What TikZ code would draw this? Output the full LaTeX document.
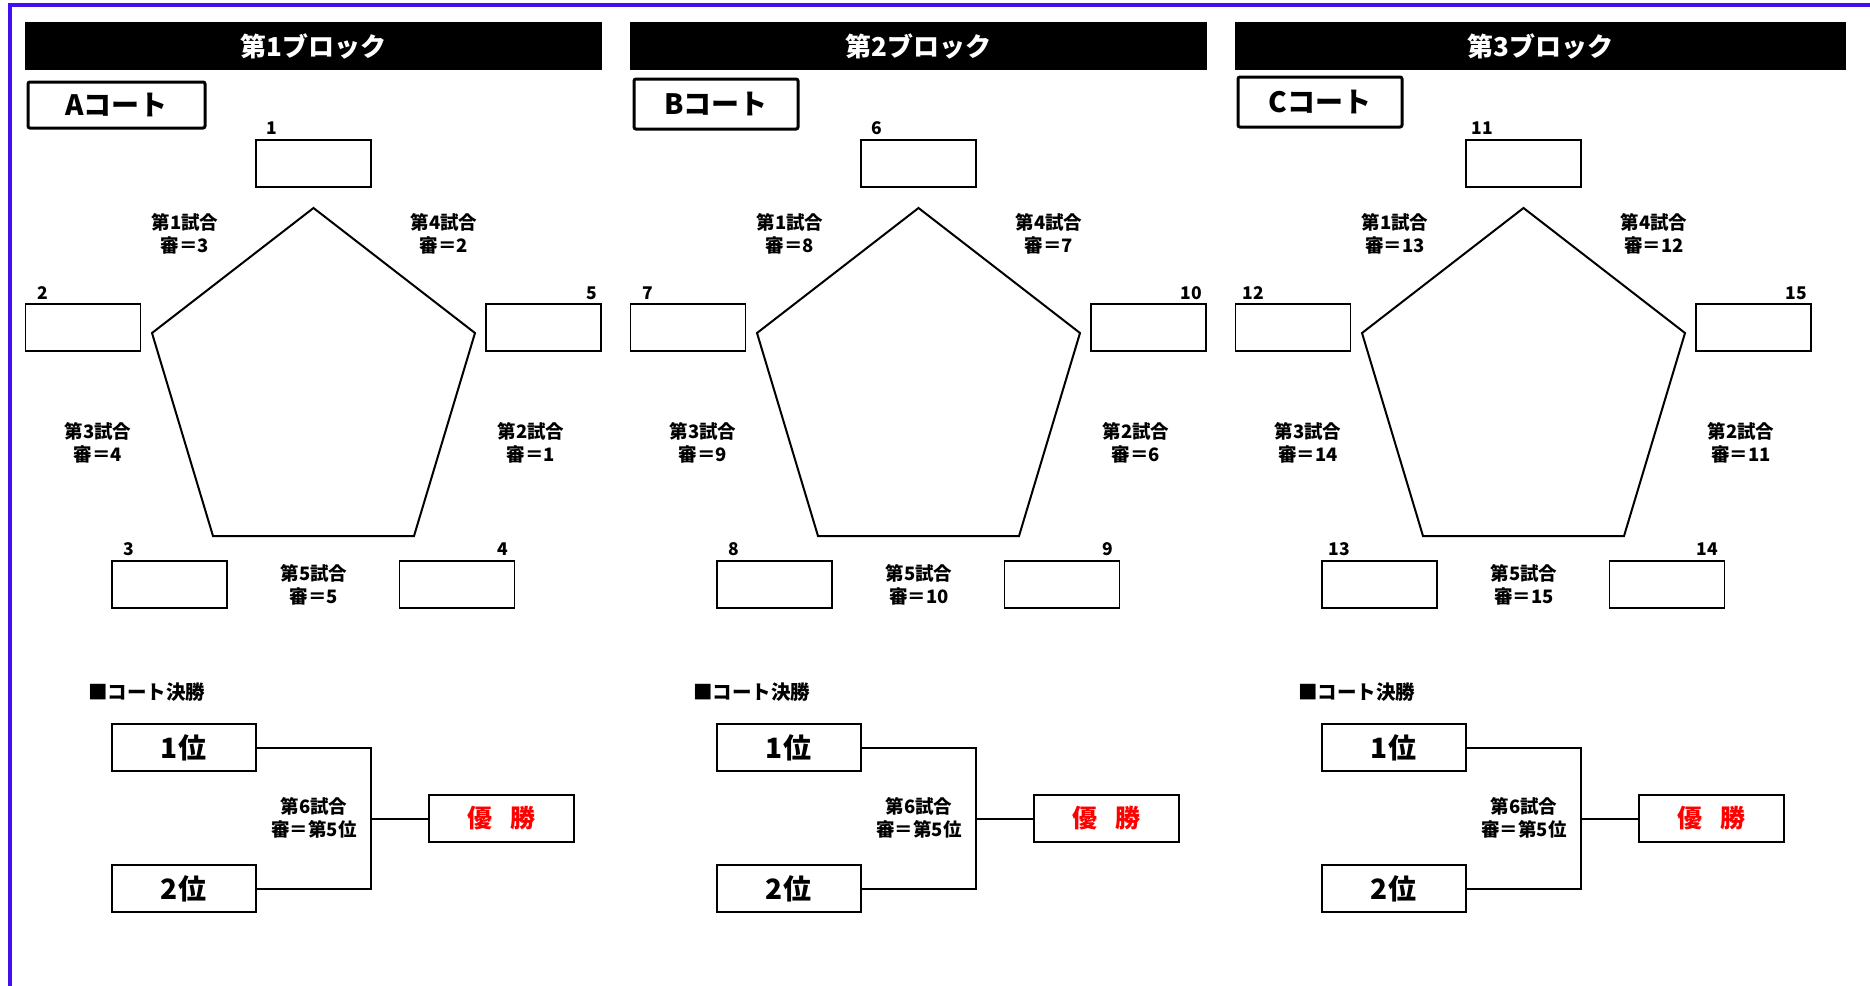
\documentclass[tikz,border=0pt]{standalone}
\usepackage{fontspec}
\setmainfont{Noto Sans CJK JP}
\definecolor{bdr}{RGB}{64,16,240}
\definecolor{winred}{RGB}{255,0,0}
\newcommand\myfs[2]{\fontsize{#1}{#2}\selectfont}
\begin{document}
\begin{tikzpicture}[x=1pt,y=-1pt,
  hdr/.style={fill=black,text=white,inner sep=0,minimum height=48pt,font=\myfs{26}{30}\bfseries},
  courtbox/.style={draw,line width=3pt,rounded corners=2pt,inner sep=0,font=\myfs{28}{32}\bfseries},
  entry/.style={draw,line width=1.5pt,minimum width=115pt,minimum height=47pt,inner sep=0},
  numlbl/.style={inner sep=0,font=\myfs{17.5}{20}\bfseries},
  match/.style={inner sep=0,align=center,font=\myfs{18.5}{23}\bfseries},
  penta/.style={line width=2pt,line join=miter},
  secttl/.style={inner sep=0,anchor=west,font=\myfs{19.5}{22}\bfseries},
  rankbox/.style={draw,line width=2pt,minimum width=144pt,minimum height=47pt,inner sep=0,font=\myfs{28}{32}\bfseries},
  winbox/.style={draw,line width=2pt,minimum width=145pt,minimum height=47pt,inner sep=0,text=winred,font=\myfs{25}{28}\bfseries},
  brk/.style={line width=2pt}]
\useasboundingbox (0,0) rectangle (1870,985);
\fill[white] (0,0) rectangle (1870,985);
\coordinate (bl) at (9.5,992);
\coordinate (tl) at (9.5,5);
\coordinate (tr) at (1875,5);
\draw[bdr,line width=4pt] (bl) -- (tl) -- (tr);
\foreach \bk/\ox/\cn/\bw/\xl/\xr/\yt/\yb in {1/0/A/577/28/205/82/128, 2/605/B/577/29/193/79/129, 3/1210/C/611/28/192/77/127} {
  \pgfmathtruncatemacro\nA{5*(\bk-1)+1}
  \pgfmathtruncatemacro\nB{5*(\bk-1)+2}
  \pgfmathtruncatemacro\nC{5*(\bk-1)+3}
  \pgfmathtruncatemacro\nD{5*(\bk-1)+4}
  \pgfmathtruncatemacro\nE{5*(\bk-1)+5}
  \begin{scope}[shift={(\ox,0)}]
    % header
    \node[hdr,minimum width={\bw*1pt}] (hdr\bk) at ({25+\bw/2},46) {第\bk ブロック};
    % court box
    \node[courtbox,minimum width={(\xr-\xl)*1pt},minimum height={(\yb-\yt)*1pt}] (court\bk) at ({(\xl+\xr)/2},{(\yt+\yb)/2}) {\cn コート};
    % entry boxes
    \node[entry] (e\bk-1) at (313.5,163.5) {};
    \node[entry] (e\bk-2) at (83,327.5) {};
    \node[entry] (e\bk-5) at (543.5,327.5) {};
    \node[entry] (e\bk-3) at (169.5,584.5) {};
    \node[entry] (e\bk-4) at (457,584.5) {};
    % entry numbers
    \node[numlbl] (l\bk-1) at (272,128) {\nA};
    \node[numlbl] (l\bk-2) at (43,293) {\nB};
    \node[numlbl,anchor=east] (l\bk-5) at (597,293) {\nE};
    \node[numlbl] (l\bk-3) at (129,549) {\nC};
    \node[numlbl,anchor=east] (l\bk-4) at (508,549) {\nD};
    % pentagon
    \coordinate (pt\bk) at (313.5,208);
    \coordinate (pr\bk) at (475,333);
    \coordinate (pbr\bk) at (414,536);
    \coordinate (pbl\bk) at (213,536);
    \coordinate (pl\bk) at (152,333);
    \draw[penta] (pt\bk) -- (pr\bk) -- (pbr\bk) -- (pbl\bk) -- (pl\bk) -- cycle;
    % match labels
    \node[match] (m\bk-1) at (185,233.5) {第1試合\\審＝\nC};
    \node[match] (m\bk-4) at (444,233.5) {第4試合\\審＝\nB};
    \node[match] (m\bk-3) at (98,442.5) {第3試合\\審＝\nD};
    \node[match] (m\bk-2) at (531,442.5) {第2試合\\審＝\nA};
    \node[match] (m\bk-5) at (314,584.5) {第5試合\\審＝\nE};
    % court final
    \node[secttl] (sec\bk) at (88,692) {■コート決勝};
    \node[rankbox] (ra\bk) at (183.5,747.5) {1位};
    \node[rankbox] (rb\bk) at (183.5,888.5) {2位};
    \node[winbox] (win\bk) at (501,818.5) {優\hspace{18pt}勝};
    \coordinate (jn\bk) at (371,818.5);
    \draw[brk] (ra\bk.east) -| (jn\bk) |- (rb\bk.east);
    \draw[brk] (jn\bk) -- (win\bk.west);
    \node[match] (m\bk-6) at (314,818) {第6試合\\審＝第5位};
  \end{scope}
}
\end{tikzpicture}
\end{document}
